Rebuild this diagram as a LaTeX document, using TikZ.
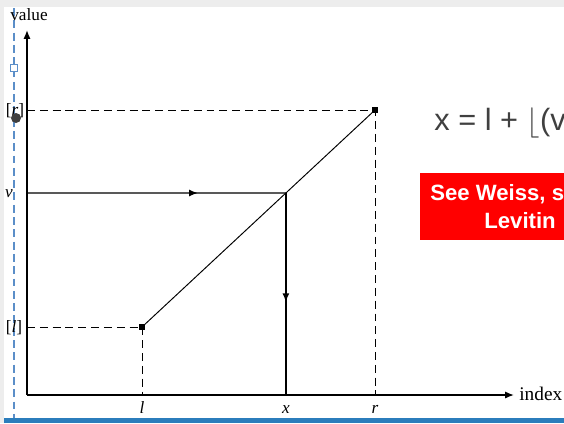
\documentclass[tikz,border=0pt]{standalone}
\usepackage{fontspec}
\setmainfont{Liberation Serif}
\newfontfamily\slidefont{Liberation Sans}
\usetikzlibrary{arrows.meta,positioning,calc,decorations.markings}
\definecolor{guideblue}{HTML}{5B8EC8}
\definecolor{barblue}{HTML}{2B7DBC}
\definecolor{stripgray}{HTML}{EDEDED}
\definecolor{boxred}{HTML}{FF0000}
\definecolor{formulagray}{HTML}{404040}

\begin{document}
\begin{tikzpicture}[x=0.02cm, y=-0.02cm,
      font=\fontsize{9.8}{11}\selectfont,
      axis/.style={line width=0.85pt, -{Latex[length=5pt,width=4pt]}},
      guide/.style={dash pattern=on 4.5pt off 2.8pt, line width=0.55pt},
      curve/.style={line width=0.55pt},
      flow/.style={line width=0.8pt},
      midarr/.style={postaction={decorate}, decoration={markings,
          mark=at position #1 with {\arrow{Latex[length=5pt,width=4pt]}}}},
      dot/.style={fill=black, inner sep=0pt, minimum size=3pt},
      lbl/.style={inner sep=0pt, anchor=base}
    ]
    \useasboundingbox (0,0) rectangle (564,423);
    \clip (0,0) rectangle (564,423);

    % slide frame
    \fill[stripgray] (0,0) rectangle (564,7);
    \fill[stripgray] (0,0) rectangle (4,423);
    \fill[barblue] (4,418) rectangle (564,423);

    % editor guide
    \draw[guideblue, line width=0.85pt, dash pattern=on 4.5pt off 2.5pt] (14,8) -- (14,418);
    \node[draw=guideblue, fill=white, line width=0.6pt, inner sep=0pt,
          minimum size=4.2pt] (handle) at (14,68) {};

    % plot points
    \coordinate (O)    at (27,395);
    \coordinate (ytip) at (27,30);
    \coordinate (xtip) at (514,395);
    \coordinate (lo)   at (142,327);
    \coordinate (hi)   at (375,110);
    \coordinate (v)    at (27,193);
    \coordinate (hit)  at ($(lo)!0.6175!(hi)$);

    \draw[axis] (O) -- (ytip);
    \draw[axis] (O) -- (xtip);
    \draw[guide] (O |- hi) -- (hi) -- (hi |- O);
    \draw[guide] (O |- lo) -- (lo) -- (lo |- O);
    \draw[curve] (lo) -- (hi);
    \draw[flow, midarr=0.66] (v) -- (hit);
    \draw[flow, midarr=0.54] (hit) -- (hit |- O);
    \node[dot] (loDot) at (lo) {};
    \node[dot] (hiDot) at (hi) {};

    % axis labels
    \node[lbl] (valueLbl) at (29,20)  {value};
    \node[inner sep=0pt, anchor=base west, font=\fontsize{11}{12}\selectfont]
          (indexLbl) at (519,400) {index};
    \node[lbl] (hiLbl) at (15,115) {[\textit{r}]};
    \node[lbl] (vLbl)  at (9,197)  {\textit{v}};
    \node[lbl] (loLbl) at (14,332) {[\textit{l}]};
    \node[lbl] (lTick) at (lo |- 0,413) {\textit{l}};
    \node[lbl] (xTick) at (hit |- 0,413) {\textit{x}};
    \node[lbl] (rTick) at (hi |- 0,413) {\textit{r}};

    % editor marker
    \fill[formulagray] (16,118) circle[radius=0.1cm];

    % formula and note
    \node[inner sep=0pt, anchor=base west, text=formulagray,
          font=\slidefont\fontsize{17.5}{19}\selectfont] (formula) at (434,130)
          {x = l + $\lfloor$(v};
    \node[fill=boxred, inner sep=0pt, anchor=north west,
          minimum width=3cm, minimum height=1.34cm] (noteBox) at (420,173) {};
    \node[inner sep=0pt, anchor=base west, text=white,
          font=\slidefont\bfseries\fontsize{12.6}{14}\selectfont] (noteTop) at (430,200)
          {See Weiss, s};
    \node[inner sep=0pt, anchor=base west, text=white,
          font=\slidefont\bfseries\fontsize{12.6}{14}\selectfont] (noteBot) at (484,228)
          {Levitin};
\end{tikzpicture}
\end{document}
